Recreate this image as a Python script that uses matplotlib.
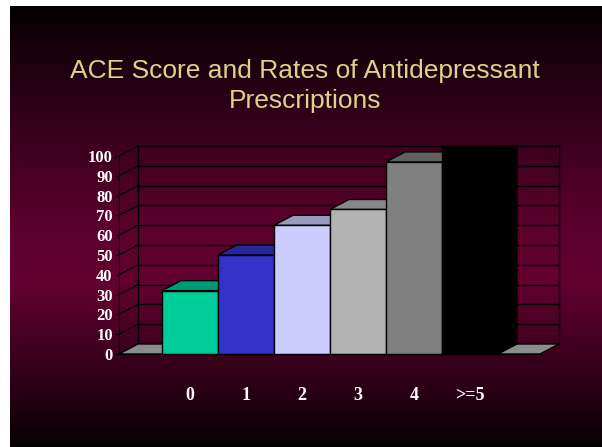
import numpy as np
import matplotlib
matplotlib.use("Agg")
import matplotlib.pyplot as plt
from matplotlib.patches import Polygon

# Data
categories = ["0", "1", "2", "3", "4", ">=5"]
values = [32, 50, 65, 73, 97, 110]
front_colors = ["#00CC99", "#3333CC", "#CCCCFF", "#B2B2B2", "#808080", "#000000"]
top_colors = ["#009975", "#26269C", "#9A9ABF", "#878787", "#606060", "#000000"]
side_colors = ["#008060", "#1F1F80", "#8080A8", "#707070", "#505050", "#000000"]
y_ticks = list(range(0, 101, 10))

W, H = 602, 447
fig = plt.figure(figsize=(W / 100, H / 100), dpi=100, facecolor="white")

# Slide background: vertical maroon gradient
bg = fig.add_axes([10 / W, 0, (W - 10) / W, (H - 6) / H])
t = np.linspace(0, 1, 400)
prof = np.interp(t, [0, 0.1, 0.5, 0.62, 0.9, 1.0], [0.03, 0.25, 0.92, 1.0, 0.35, 0.05])
peak = np.array([0.39, 0.0, 0.19])
grad = prof[:, None, None] * peak[None, None, :]
bg.imshow(grad, aspect="auto", extent=[0, 1, 0, 1], origin="upper")
bg.set_axis_off()

# Title
title_color = "#DCD28C"
fig.text(0.507, 1 - 78 / H, "ACE Score and Rates of Antidepressant",
         ha="center", va="baseline", fontsize=19, color=title_color,
         family="Liberation Sans")
fig.text(0.507, 1 - 108 / H, "Prescriptions",
         ha="center", va="baseline", fontsize=19, color=title_color,
         family="Liberation Sans")

# Chart axes (front plane)
x_left, x_right = -0.5 - 43 / 56, 5.5 + 42 / 56
ax = fig.add_axes([119 / W, (H - 354) / H, 421 / W, 198 / H])
ax.set_xlim(x_left, x_right)
ax.set_ylim(0, 100)
ax.patch.set_visible(False)
dx = 19 / 56          # depth offset in x units
dy = 10 / 1.98        # depth offset in value units
top = 100 + dy        # top of back wall

# back wall gridlines and side wall lines
for v in y_ticks:
    ax.plot([x_left + dx, x_right + dx], [v + dy, v + dy], color="black", lw=1,
            clip_on=False, zorder=1)
    ax.plot([x_left, x_left + dx], [v, v + dy], color="black", lw=1,
            clip_on=False, zorder=1)
ax.plot([x_left + dx, x_left + dx], [dy, top], color="black", lw=1, clip_on=False, zorder=1)
ax.plot([x_right + dx, x_right + dx], [dy, top], color="black", lw=1, clip_on=False, zorder=1)

# floor
floor = Polygon([(x_left, 0), (x_right, 0), (x_right + dx, dy), (x_left + dx, dy)],
                closed=True, facecolor="#8C8C8C", edgecolor="black", lw=1,
                clip_on=False, zorder=2)
ax.add_patch(floor)

# bars with fake depth
for i, (v, fc, tc, sc) in enumerate(zip(values, front_colors, top_colors, side_colors)):
    x0, x1 = i - 0.5, i + 0.5
    h = min(v, top)
    ht = min(v + dy, top)
    side = Polygon([(x1, 0), (x1 + dx, dy), (x1 + dx, ht), (x1, h)],
                   facecolor=sc, edgecolor="black", lw=1, clip_on=False, zorder=3)
    face_top = Polygon([(x0, h), (x1, h), (x1 + dx, ht), (x0 + dx, ht)],
                       facecolor=tc, edgecolor="black", lw=1, clip_on=False, zorder=3)
    ax.add_patch(side)
    ax.add_patch(face_top)
    ax.bar(i, h, width=1.0, bottom=0, color=fc, edgecolor="black", lw=1,
           zorder=4, clip_on=False)

# axes styling
for s in ["top", "right"]:
    ax.spines[s].set_visible(False)
ax.spines["left"].set_color("black")
ax.spines["bottom"].set_color("black")
ax.spines["left"].set_zorder(5)
ax.spines["bottom"].set_zorder(5)

ax.set_yticks(y_ticks)
ax.set_yticklabels([str(v) for v in y_ticks], color="white", fontsize=12,
                   fontweight="bold", family="Liberation Serif")
ax.tick_params(axis="y", length=3, width=1, color="black", pad=1.5)

ax.set_xticks(range(len(categories)))
ax.set_xticklabels(categories, color="white", fontsize=13, fontweight="bold",
                   family="Liberation Serif")
ax.tick_params(axis="x", length=0, pad=24)

fig.savefig("out.png", dpi=100, facecolor="white")
